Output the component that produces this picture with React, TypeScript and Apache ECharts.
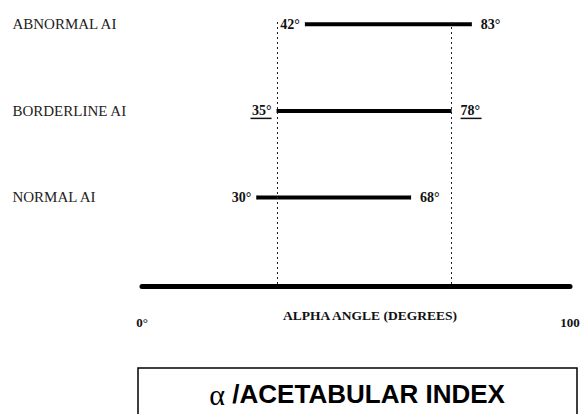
import React, { useEffect, useRef } from "react";
import * as echarts from "echarts";

const categories = ["NORMAL AI", "BORDERLINE AI", "ABNORMAL AI"];
const levels = [1, 2, 3];
const startAngles = [30, 35, 42];
const endAngles = [68, 78, 83];
const guideAngles = [35, 78];
const underlinedRows = ["BORDERLINE AI"];
const axisTickLabels = ["0°", "100"];
const axisTitle = "ALPHA ANGLE (DEGREES)";
const titleSymbol = "α";
const titleText = "/ACETABULAR INDEX";

const SERIF = "'Liberation Serif', 'Times New Roman', serif";
const SANS = "'Liberation Sans', Arial, sans-serif";

export default function App() {
  const ref = useRef<HTMLDivElement>(null);

  useEffect(() => {
    document.body.style.margin = "0";
    if (!ref.current) return;
    const chart = echarts.init(ref.current, null, { renderer: "svg", width: 587, height: 414 });

    const degLabel = (v: number, row: string) =>
      underlinedRows.includes(row) ? `{t|${v}°}\n{u| }` : `{t|${v}°}`;

    const labelRich = {
      t: { fontFamily: SERIF, fontWeight: "bold", fontSize: 14, color: "#111", lineHeight: 15 },
      u: { width: 21, height: 1.5, lineHeight: 1.5, fontSize: 1, backgroundColor: "#111" },
    };

    const series: any[] = categories.map((name, i) => ({
      type: "line",
      name,
      xAxisIndex: 0,
      yAxisIndex: 0,
      symbol: "rect",
      symbolSize: [1, 4],
      showSymbol: true,
      itemStyle: { color: "#000" },
      lineStyle: { color: "#000", width: 4, cap: "butt" },
      z: 3,
      data: [
        {
          value: [startAngles[i], levels[i]],
          label: {
            show: true,
            position: "left",
            distance: 5,
            formatter: () => degLabel(startAngles[i], name),
            rich: labelRich,
          },
        },
        {
          value: [endAngles[i], levels[i]],
          label: {
            show: true,
            position: "right",
            distance: 9,
            formatter: () => degLabel(endAngles[i], name),
            rich: labelRich,
          },
        },
      ],
      markLine:
        i === 0
          ? {
              silent: true,
              symbol: "none",
              label: { show: false },
              lineStyle: { color: "#222", width: 1, type: [2, 3] },
              data: guideAngles.map((a) => ({ xAxis: a })),
            }
          : undefined,
    }));

    chart.setOption({
      animation: false,
      backgroundColor: "#fff",
      grid: [
        { left: 135.4, width: 404.7, top: 20, height: 264 },
        { left: 142, width: 428, top: 250, height: 36.5 },
      ],
      xAxis: [
        { type: "value", gridIndex: 0, min: 0, max: 100, show: false },
        {
          type: "value",
          gridIndex: 1,
          min: 0,
          max: 100,
          interval: 100,
          axisLine: { show: true, onZero: false, lineStyle: { color: "#000", width: 5 } },
          axisTick: { show: false },
          splitLine: { show: false },
          axisLabel: {
            margin: 29,
            fontFamily: SERIF,
            fontWeight: "bold",
            fontSize: 13,
            color: "#111",
            formatter: (v: number) => (v === 0 ? axisTickLabels[0] : v === 100 ? axisTickLabels[1] : ""),
          },
          name: axisTitle,
          nameLocation: "middle",
          nameGap: 22,
          nameMoveOverlap: false,
          nameTextStyle: {
            fontFamily: SERIF,
            fontWeight: "bold",
            fontSize: 13.5,
            color: "#111",
            padding: [0, 0, 0, 28],
          },
        },
      ],
      yAxis: [
        {
          type: "value",
          gridIndex: 0,
          min: 0,
          max: 3.05,
          interval: 1,
          axisLine: { show: false },
          axisTick: { show: false },
          splitLine: { show: false },
          axisLabel: {
            align: "left",
            margin: 123,
            fontFamily: SERIF,
            fontSize: 15,
            color: "#222",
            formatter: (v: number) => {
              const idx = levels.indexOf(v);
              return idx >= 0 ? categories[idx] : "";
            },
          },
        },
        { type: "value", gridIndex: 1, show: false },
      ],
      series,
      graphic: [
        {
          type: "rect",
          silent: true,
          shape: { x: 138, y: 368, width: 439, height: 60 },
          style: { fill: "none", stroke: "#000", lineWidth: 1.5 },
        },
        {
          type: "text",
          silent: true,
          x: 357,
          y: 394,
          style: {
            text: `{a|${titleSymbol} }{b|${titleText}}`,
            align: "center",
            verticalAlign: "middle",
            rich: {
              a: { fontFamily: SERIF, fontSize: 30, color: "#000" },
              b: { fontFamily: SANS, fontWeight: "bold", fontSize: 26, color: "#000" },
            },
          },
        },
      ],
    });

    return () => chart.dispose();
  }, []);

  return (
    <div
      ref={ref}
      style={{ position: "fixed", left: 0, top: 0, width: 587, height: 414, background: "#fff" }}
    />
  );
}
